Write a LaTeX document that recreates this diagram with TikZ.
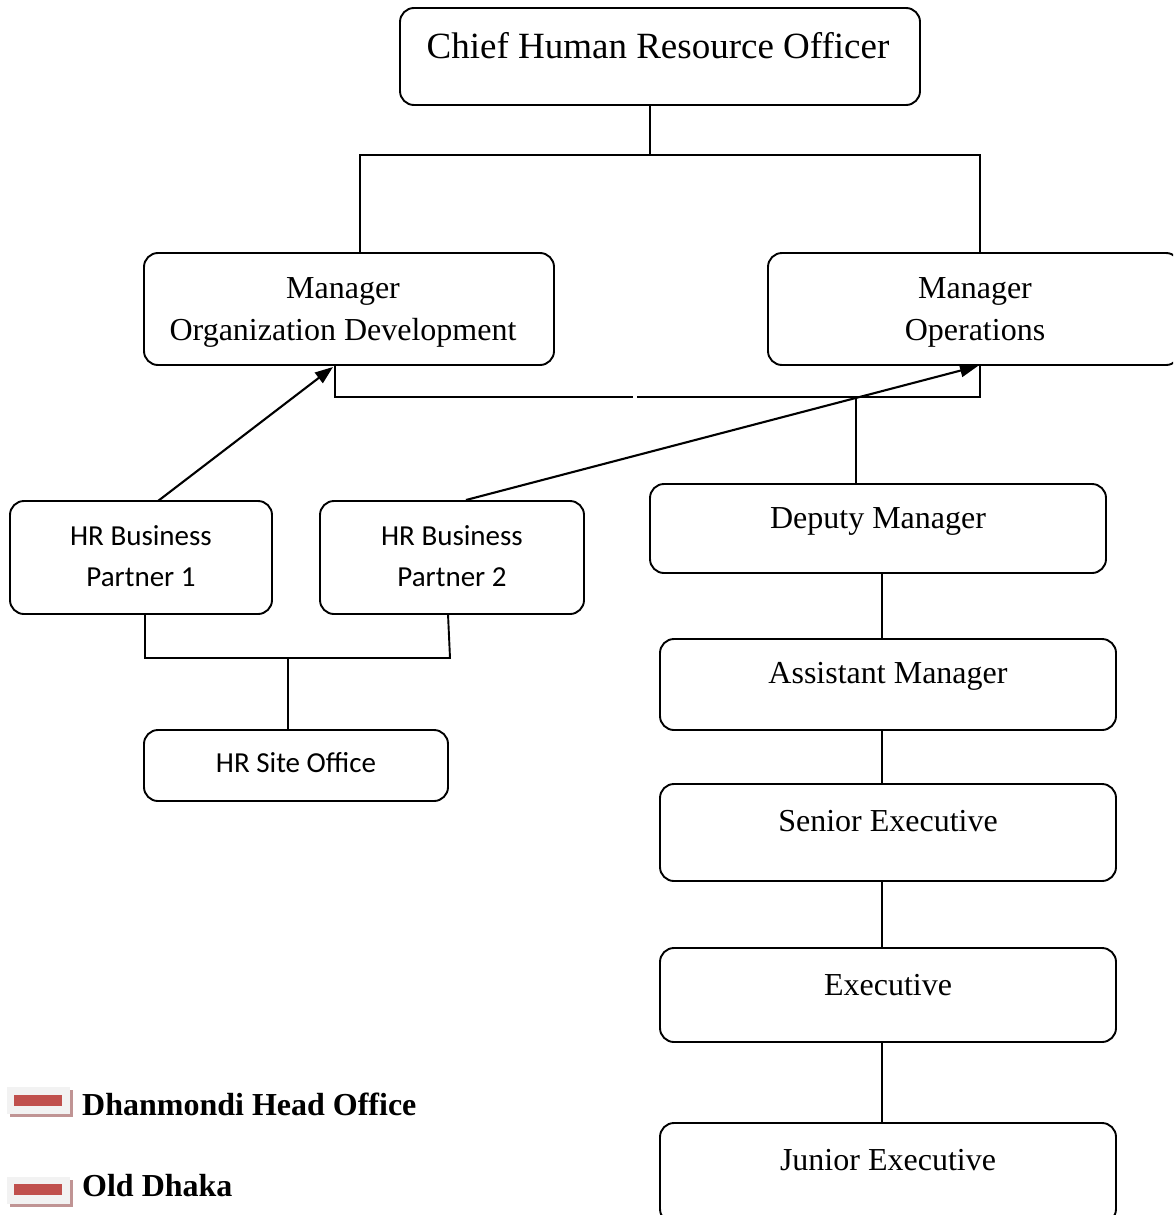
\documentclass[tikz,border=0pt]{standalone}
\usepackage{fontspec}
\setmainfont{Liberation Serif}
\newfontfamily\calib{Carlito}
\usetikzlibrary{arrows.meta}
\definecolor{legred}{HTML}{C0504D}
\definecolor{legshadow}{HTML}{C09494}
\definecolor{leggrey}{HTML}{F2F2F2}
\begin{document}
\begin{tikzpicture}[x=1pt,y=-1pt,
  box/.style={draw, line width=1.9, rounded corners=14, inner sep=0pt},
  tnr/.style={font=\fontsize{32}{42}\selectfont, align=center, inner sep=0pt},
  cal/.style={font=\calib\fontsize{29}{41}\selectfont, align=center, inner sep=0pt},
  conn/.style={line width=1.9},
  arr/.style={line width=2.1, -{Triangle[length=18,width=13]}},
  leg/.style={font=\bfseries\fontsize{32}{36}\selectfont, anchor=west, inner sep=0pt}
]
\clip (0,0) rectangle (1173,1215);
\fill[white] (0,0) rectangle (1173,1215);
% boxes
\node[box, minimum width=520, minimum height=97] (chro) at (660,56.5) {};
\node[box, minimum width=410, minimum height=112] (mod) at (349,309) {};
\node[box, minimum width=412, minimum height=112] (mops) at (974,309) {};
\node[box, minimum width=262, minimum height=113] (hr1) at (141,557.5) {};
\node[box, minimum width=264, minimum height=113] (hr2) at (452,557.5) {};
\node[box, minimum width=304, minimum height=71] (site) at (296,765.5) {};
\node[box, minimum width=456, minimum height=89] (dep) at (878,528.5) {};
\node[box, minimum width=456, minimum height=91] (asst) at (888,684.5) {};
\node[box, minimum width=456, minimum height=97] (sen) at (888,832.5) {};
\node[box, minimum width=456, minimum height=94] (exe) at (888,995) {};
\node[box, minimum width=456, minimum height=100] (jun) at (888,1173) {};
% texts
\node[tnr, font=\fontsize{37}{44}\selectfont] (tchro) at (658,46) {Chief Human Resource Officer};
\node[tnr] (tmod) at (343,312) {Manager\\Organization Development};
\node[tnr] (tmops) at (975,312) {Manager\\Operations};
\node[cal] (thr1) at (141,556) {HR Business\\Partner 1};
\node[cal] (thr2) at (452,556) {HR Business\\Partner 2};
\node[cal] (tsite) at (296,763) {HR Site Office};
\node[tnr] (tdep) at (878,521) {Deputy Manager};
\node[tnr] (tasst) at (888,676) {Assistant Manager};
\node[tnr] (tsen) at (888,821) {Senior Executive};
\node[tnr] (texe) at (888,985) {Executive};
\node[tnr] (tjun) at (888,1160) {Junior Executive};
% top connectors
\coordinate (t1) at (650,155);
\coordinate (tl) at (360,155);
\coordinate (tr) at (980,155);
\draw[conn] (chro.south -| t1) -- (t1);
\draw[conn] (mod.north -| tl) -- (tl) -- (tr) -- (mops.north -| tr);
% bracket under managers
\coordinate (b1) at (335,397);
\coordinate (g1) at (633,397);
\coordinate (g2) at (637,397);
\coordinate (b2) at (980,397);
\coordinate (dj) at (856,397);
\draw[conn] (mod.south -| b1) -- (b1) -- (g1);
\draw[conn] (g2) -- (b2) -- (mops.south -| b2);
\draw[conn] (dj) -- (dep.north -| dj);
% arrows
\coordinate (a1) at (158,501);
\coordinate (a2) at (466,500);
\coordinate (h1) at (333,367);
\coordinate (h2) at (978,366);
\draw[arr] (a1) -- (h1);
\draw[arr] (a2) -- (h2);
% HRBP to site
\coordinate (p1) at (145,658);
\coordinate (p2) at (450,658);
\coordinate (pm) at (288,658);
\draw[conn] (hr1.south -| p1) -- (p1) -- (p2) -- (448,614);
\draw[conn] (pm) -- (site.north -| pm);
% right chain
\coordinate (cx) at (882,0);
\draw[conn] (dep.south -| cx) -- (asst.north -| cx);
\draw[conn] (asst.south -| cx) -- (sen.north -| cx);
\draw[conn] (sen.south -| cx) -- (exe.north -| cx);
\draw[conn] (exe.south -| cx) -- (jun.north -| cx);
% legend
\fill[legshadow] (10,1090) rectangle (73,1117);
\fill[leggrey] (7,1087) rectangle (70,1114);
\fill[legred] (14,1095) rectangle (62,1106);
\fill[legshadow] (10,1180) rectangle (73,1207);
\fill[leggrey] (7,1177) rectangle (70,1204);
\fill[legred] (14,1184) rectangle (62,1195);
\node[leg] (l1) at (82,1104) {Dhanmondi Head Office};
\node[leg] (l2) at (82,1186) {Old Dhaka};
\end{tikzpicture}
\end{document}
